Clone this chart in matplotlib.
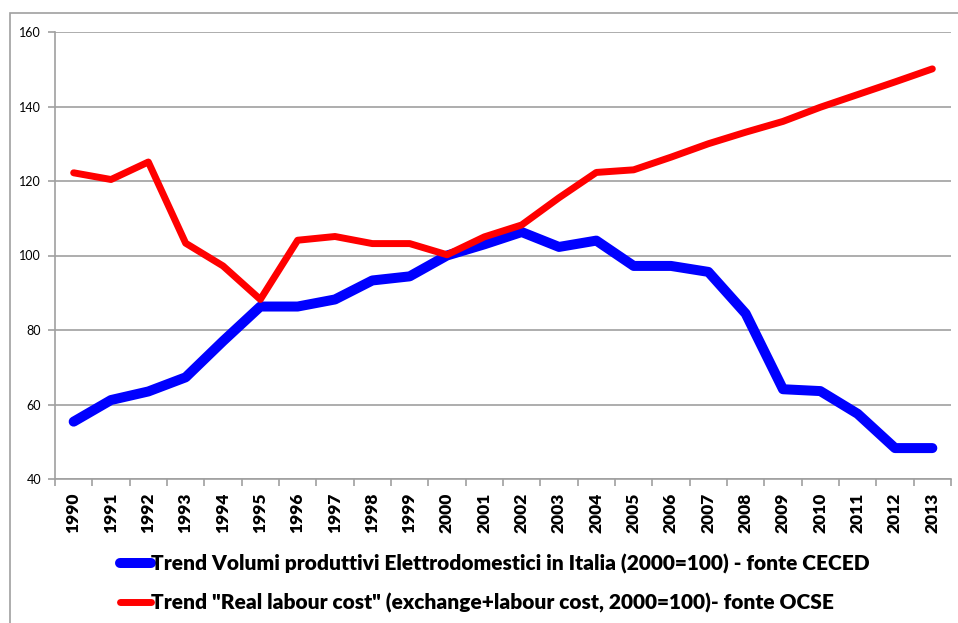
import matplotlib.pyplot as plt
from matplotlib.patches import Rectangle
from matplotlib.ticker import FixedLocator

# Data (2000 = 100)
years = [str(y) for y in range(1990, 2014)]
volumi = [55.4, 61.2, 63.5, 67.3, 77, 86.3, 86.3, 88.2, 93.3, 94.4, 100, 103,
          106.3, 102.3, 104, 97.2, 97.2, 95.6, 84.4, 64.1, 63.6, 57.5, 48.3, 48.3]
labour = [122.2, 120.4, 125.1, 103.3, 97.2, 88.2, 104.1, 105.1, 103.2, 103.2, 100.2, 105,
          108.2, 115.5, 122.3, 123, 126.4, 130, 133.1, 136, 139.8, 143.2, 146.6, 150.1]

label_volumi = 'Trend Volumi produttivi Elettrodomestici in Italia (2000=100) - fonte CECED'
label_labour = 'Trend "Real labour cost" (exchange+labour cost, 2000=100)- fonte OCSE'

plt.rcParams['font.family'] = ['Lato', 'DejaVu Sans']

fig = plt.figure(figsize=(9.58, 6.23), dpi=100)
W, H = 958, 623

# outer chart frame
fig.patches.append(Rectangle((10 / W, -0.01), 1.02, (H - 13) / H + 0.01,
                             transform=fig.transFigure, fill=False,
                             edgecolor='#A0A0A0', linewidth=1.2))

ax = fig.add_axes([55 / W, (H - 479) / H, 896 / W, 447 / H])

x = list(range(len(years)))
ax.plot(x, volumi, color='#0000FF', linewidth=7.2, solid_capstyle='round',
        solid_joinstyle='round', label=label_volumi)
ax.plot(x, labour, color='#FF0000', linewidth=5.0, solid_capstyle='round',
        solid_joinstyle='round', label=label_labour)

ax.set_xlim(-0.5, len(years) - 0.5)
ax.set_ylim(40, 160)
ax.set_yticks(range(40, 161, 20))
ax.grid(axis='y', color='#A0A0A0', linewidth=1.2)
ax.set_axisbelow(True)

ax.set_xticks(x)
ax.set_xticklabels(years, rotation=90, fontweight='heavy', fontsize=12.5)
ax.xaxis.set_minor_locator(FixedLocator([i - 0.5 for i in range(len(years) + 1)]))
ax.tick_params(axis='x', which='major', length=0, pad=10)
ax.tick_params(axis='x', which='minor', length=5, color='#A0A0A0', width=1.2)
ax.tick_params(axis='y', length=5, color='#A0A0A0', width=1.2, labelsize=9, pad=5)

for side in ['top', 'right']:
    ax.spines[side].set_visible(False)
for side in ['left', 'bottom']:
    ax.spines[side].set_color('#A0A0A0')
    ax.spines[side].set_linewidth(1.2)

fig.legend(loc='upper left', bbox_to_anchor=(101 / W, 1 - 535 / H),
           frameon=False, handlelength=1.5, handletextpad=0.0,
           labelspacing=0.93, prop={'weight': 'heavy', 'size': 15})

fig.savefig('out.png', dpi=100)
